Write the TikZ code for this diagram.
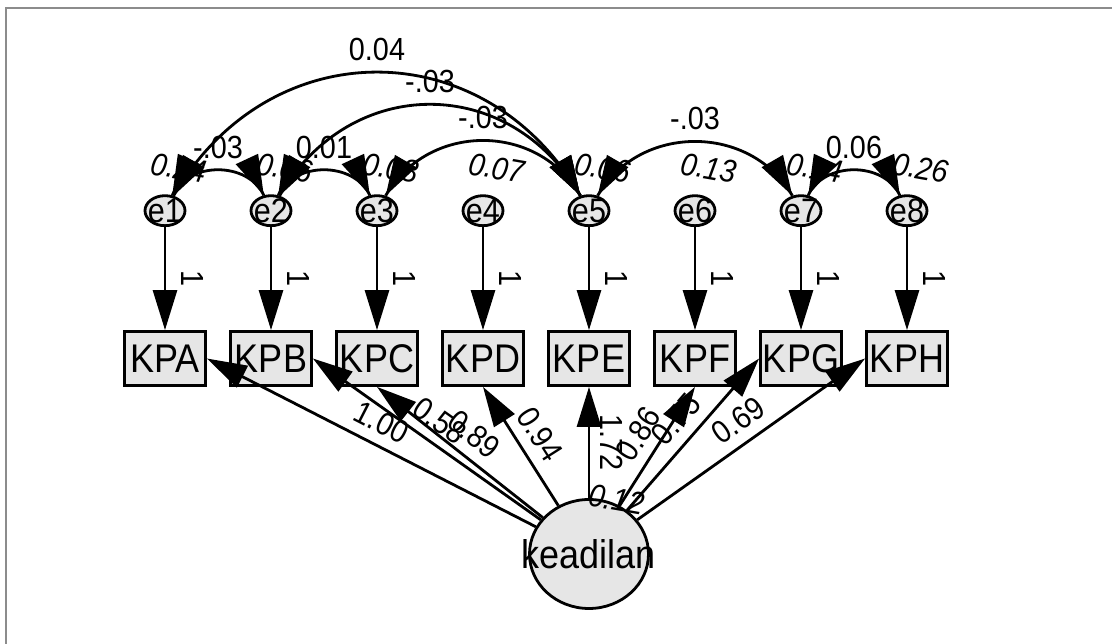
\documentclass[tikz,border=0pt]{standalone}
\usepackage{fontspec}
\setmainfont{Liberation Sans}[FakeStretch=0.9]
\usetikzlibrary{arrows.meta, positioning, shapes.geometric}
\definecolor{varfill}{HTML}{E6E6E6}
\definecolor{framegrey}{HTML}{8C8C8C}
\tikzset{
  obsvar/.style  = {draw, line width=2.8pt, fill=varfill,
                    minimum width=81pt, minimum height=54pt,
                    font=\fontsize{40}{40}\selectfont, inner sep=0pt},
  errvar/.style  = {draw, ellipse, line width=2.8pt, fill=varfill,
                    minimum width=40pt, minimum height=30pt,
                    font=\fontsize{34}{34}\selectfont, inner xsep=-4pt, inner ysep=-2pt},
  latvar/.style  = {draw, ellipse, line width=2.8pt, fill=varfill,
                    minimum width=119pt, minimum height=109pt,
                    font=\fontsize{40}{40}\selectfont, inner xsep=-30pt, inner ysep=0pt},
  regpath/.style = {-{Triangle[length=40pt, width=24pt]}, line width=2.8pt},
  covline/.style = {line width=2.8pt},
  covtips/.style = {tips, {Triangle[length=40pt, width=24pt]}-{Triangle[length=40pt, width=24pt]},
                    line width=2.8pt},
  estlbl/.style  = {font=\fontsize{32}{32}\selectfont, inner sep=3pt},
  varlbl/.style  = {font=\fontsize{32}{32}\selectfont\itshape, inner sep=0pt, rotate=-10},
}

\begin{document}
\begin{tikzpicture}[x=1pt, y=1pt, node distance=22.2pt]
    \useasboundingbox (0,0) rectangle (1112,644);
    \draw[framegrey, line width=1.5pt] (6,0) -- (6,636) -- (1112,636);

    % Row 1 : observed indicators
    \node[obsvar]                  (KPA) at (165,285.5) {KPA};
    \node[obsvar, right=of KPA]    (KPB) {KPB};
    \node[obsvar, right=of KPB]    (KPC) {KPC};
    \node[obsvar, right=of KPC]    (KPD) {KPD};
    \node[obsvar, right=of KPD]    (KPE) {KPE};
    \node[obsvar, right=of KPE]    (KPF) {KPF};
    \node[obsvar, right=of KPF]    (KPG) {KPG};
    \node[obsvar, right=of KPG]    (KPH) {KPH};
    % Row 0 : error terms
    \node[errvar, above=103pt of KPA] (e1) {e1};
    \node[errvar, above=103pt of KPB] (e2) {e2};
    \node[errvar, above=103pt of KPC] (e3) {e3};
    \node[errvar, above=103pt of KPD] (e4) {e4};
    \node[errvar, above=103pt of KPE] (e5) {e5};
    \node[errvar, above=103pt of KPF] (e6) {e6};
    \node[errvar, above=103pt of KPG] (e7) {e7};
    \node[errvar, above=103pt of KPH] (e8) {e8};
    % latent factor
    \node[latvar, below=111.2pt of KPE] (kead) {keadilan};

    % variances
    \node[varlbl, above=17pt of e1, xshift=12pt] (v1) {0.24};
    \node[varlbl, above=17pt of e2, xshift=12pt] (v2) {0.06};
    \node[varlbl, above=17pt of e3, xshift=12pt] (v3) {0.08};
    \node[varlbl, above=17pt of e4, xshift=12pt] (v4) {0.07};
    \node[varlbl, above=17pt of e5, xshift=12pt] (v5) {0.06};
    \node[varlbl, above=17pt of e6, xshift=12pt] (v6) {0.13};
    \node[varlbl, above=17pt of e7, xshift=12pt] (v7) {0.14};
    \node[varlbl, above=17pt of e8, xshift=12pt] (v8) {0.26};
    \node[varlbl, above=-8pt of kead, xshift=26pt] (v9) {0.12};

    % error paths
    \draw[regpath] (e1) -- node[estlbl, sloped, above=12.5pt] {1} (KPA);
    \draw[regpath] (e2) -- node[estlbl, sloped, above=12.5pt] {1} (KPB);
    \draw[regpath] (e3) -- node[estlbl, sloped, above=12.5pt] {1} (KPC);
    \draw[regpath] (e4) -- node[estlbl, sloped, above=12.5pt] {1} (KPD);
    \draw[regpath] (e5) -- node[estlbl, sloped, above=12.5pt] {1} (KPE);
    \draw[regpath] (e6) -- node[estlbl, sloped, above=12.5pt] {1} (KPF);
    \draw[regpath] (e7) -- node[estlbl, sloped, above=12.5pt] {1} (KPG);
    \draw[regpath] (e8) -- node[estlbl, sloped, above=12.5pt] {1} (KPH);

    % covariances (full arc, tips laid on top)
    \draw[covline] (e1) to[bend left=65, looseness=1.05] node[estlbl, above=7pt] {-.03} (e2);
    \path[covtips] (e1) to[bend left=65, looseness=1.05] (e2);
    \draw[covline] (e2) to[bend left=65, looseness=1.05] node[estlbl, above=7pt] {0.01} (e3);
    \path[covtips] (e2) to[bend left=65, looseness=1.05] (e3);
    \draw[covline] (e7) to[bend left=65, looseness=1.05] node[estlbl, above=7pt] {0.06} (e8);
    \path[covtips] (e7) to[bend left=65, looseness=1.05] (e8);
    \draw[covline] (e3) to[bend left=60, looseness=1.12] node[estlbl, above=7pt] {-.03} (e5);
    \path[covtips] (e3) to[bend left=60, looseness=1.12] (e5);
    \draw[covline] (e5) to[bend left=60, looseness=1.1] node[estlbl, above=7pt] {-.03} (e7);
    \path[covtips] (e5) to[bend left=60, looseness=1.1] (e7);
    \draw[covline] (e2) to[bend left=60, looseness=1.2] node[estlbl, above=7pt] {-.03} (e5);
    \path[covtips] (e2) to[bend left=60, looseness=1.2] (e5);
    \draw[covline] (e1) to[bend left=60, looseness=1.2] node[estlbl, above=7pt] {0.04} (e5);
    \path[covtips] (e1) to[bend left=60, looseness=1.2] (e5);

    % loadings
    \draw[regpath] (kead) -- node[estlbl, sloped, above=7pt] {1.00} (KPA.east);
    \draw[regpath] (kead) -- node[estlbl, sloped, above=7pt] {0.58} (KPB.east);
    \draw[regpath] (kead) -- node[estlbl, sloped, above=7pt] {0.89} (KPC.south);
    \draw[regpath] (kead) -- node[estlbl, sloped, above=7pt] {0.94} (KPD.south);
    \draw[regpath] (kead) -- node[estlbl, xshift=7pt, rotate=-90, anchor=south] {1.72} (KPE.south);
    \draw[regpath] (kead) -- node[estlbl, sloped, above=7pt] {0.69} (KPH.west);
    \draw[regpath] (kead) -- node[estlbl, sloped, above=7pt] {0.75} (KPG.west);
    \draw[regpath] (kead) -- node[estlbl, sloped, above=7pt] {0.86} (KPF.south);
\end{tikzpicture}
\end{document}
